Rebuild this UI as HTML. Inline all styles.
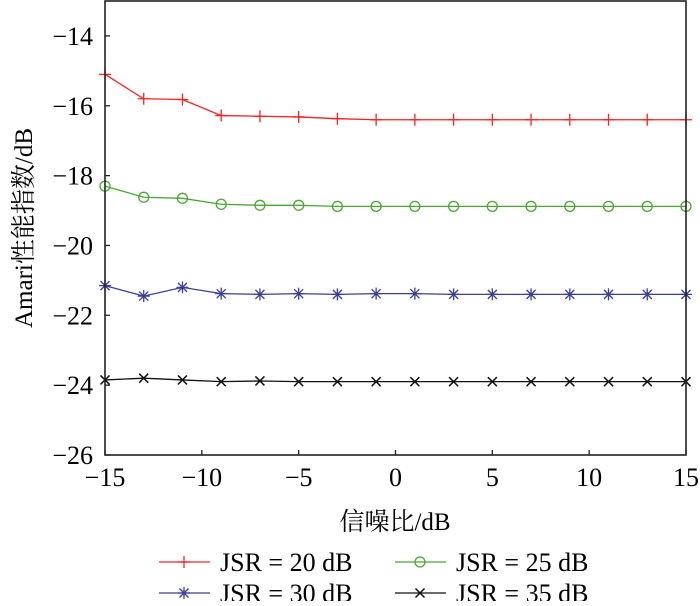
<!DOCTYPE html>
<html><head><meta charset="utf-8"><style>
body{margin:0;background:#fff}
text{font-family:"Liberation Serif","Noto Serif CJK SC",serif;fill:#000}
</style></head><body>
<svg id="chart" width="700" height="601" xmlns="http://www.w3.org/2000/svg">
<g id="plot"></g>
<g id="axes"></g>
<text x="395" y="530" font-size="25" text-anchor="middle">信噪比/dB</text>
<text transform="translate(32,228) rotate(-90)" font-size="25" text-anchor="middle">Amari性能指数/dB</text>
<g id="legend"></g>
</svg>
<script>
const xValues=[-15,-13,-11,-9,-7,-5,-3,-1,1,3,5,7,9,11,13,15];
const jsr20=[-15.1,-15.8,-15.82,-16.28,-16.3,-16.32,-16.37,-16.4,-16.4,-16.4,-16.4,-16.4,-16.4,-16.4,-16.4,-16.4];
const jsr25=[-18.3,-18.62,-18.65,-18.82,-18.85,-18.85,-18.88,-18.88,-18.88,-18.88,-18.88,-18.88,-18.88,-18.88,-18.88,-18.88];
const jsr30=[-21.15,-21.45,-21.2,-21.38,-21.4,-21.38,-21.4,-21.38,-21.38,-21.4,-21.4,-21.4,-21.4,-21.4,-21.4,-21.4];
const jsr35=[-23.85,-23.8,-23.85,-23.9,-23.88,-23.9,-23.9,-23.9,-23.9,-23.9,-23.9,-23.9,-23.9,-23.9,-23.9,-23.9];
const xTicks=[-15,-10,-5,0,5,10,15];
const yTicks=[-14,-16,-18,-20,-22,-24,-26];
const seriesLabels=["JSR = 20 dB","JSR = 25 dB","JSR = 30 dB","JSR = 35 dB"];

const L=105,R=686,T=1,B=455,xmin=-15,xmax=15,ymin=-26,ymax=-13;
const sx=v=>L+(v-xmin)/(xmax-xmin)*(R-L);
const sy=v=>B-(v-ymin)/(ymax-ymin)*(B-T);
const NS="http://www.w3.org/2000/svg";
function mk(tag,attrs,parent){const e=document.createElementNS(NS,tag);for(const k in attrs)e.setAttribute(k,attrs[k]);parent.appendChild(e);return e;}
const plot=document.getElementById('plot'),axes=document.getElementById('axes'),legend=document.getElementById('legend');

function marker(type,x,y,color,g){
  const s=6;
  if(type==='plus'){mk('path',{d:`M${x-s} ${y}H${x+s}M${x} ${y-s}V${y+s}`,stroke:color,'stroke-width':1.3,fill:'none'},g);}
  else if(type==='circle'){mk('circle',{cx:x,cy:y,r:5,stroke:color,'stroke-width':1.3,fill:'none'},g);}
  else if(type==='star'){const d=4.5;mk('path',{d:`M${x-s} ${y}H${x+s}M${x} ${y-s}V${y+s}M${x-d} ${y-d}L${x+d} ${y+d}M${x-d} ${y+d}L${x+d} ${y-d}`,stroke:color,'stroke-width':1.3,fill:'none'},g);}
  else {const d=4.5;mk('path',{d:`M${x-d} ${y-d}L${x+d} ${y+d}M${x-d} ${y+d}L${x+d} ${y-d}`,stroke:color,'stroke-width':1.5,fill:'none'},g);}
}
const series=[[jsr20,'#ff2020','plus'],[jsr25,'#4aa832','circle'],[jsr30,'#3a3f9a','star'],[jsr35,'#111','x']];
series.forEach((s,i)=>{
  const g=mk('g',{},plot);
  
  
  mk('polyline',{points:xValues.map((x,j)=>sx(x)+','+sy(s[0][j])).join(' '),fill:'none',stroke:s[1],'stroke-width':1.3},g);
  xValues.forEach((x,j)=>marker(s[2],sx(x),sy(s[0][j]),s[1],g));
});
mk('rect',{x:L,y:T,width:R-L,height:B-T,fill:'none',stroke:'#222','stroke-width':1.6},axes);
xTicks.forEach(v=>{
  mk('line',{x1:sx(v),x2:sx(v),y1:B,y2:B-5,stroke:'#222','stroke-width':1.3},axes);
  const t=mk('text',{x:sx(v),y:B+31,'font-size':26,'text-anchor':'middle'},axes);
  t.textContent=(v<0?'\u2212':'')+Math.abs(v);
  
  
});
yTicks.forEach(v=>{
  mk('line',{x1:L,x2:L+5,y1:sy(v),y2:sy(v),stroke:'#222','stroke-width':1.3},axes);
  const t=mk('text',{x:L-12,y:sy(v)+9,'font-size':26,'text-anchor':'end'},axes);
  t.textContent='\u2212'+Math.abs(v);
  
  
});
const lpos=[[159,562],[395,562],[159,593],[395,593]];
series.forEach((s,i)=>{
  const [x,y]=lpos[i];
  const g=mk('g',{},legend);
  
  
  mk('line',{x1:x,x2:x+51,y1:y,y2:y,stroke:s[1],'stroke-width':1.3},g);
  marker(s[2],x+25,y,s[1],g);
  const t=mk('text',{x:x+61,y:y+9,'font-size':26},g);
  t.textContent=seriesLabels[i];
});
</script>
</body></html>
